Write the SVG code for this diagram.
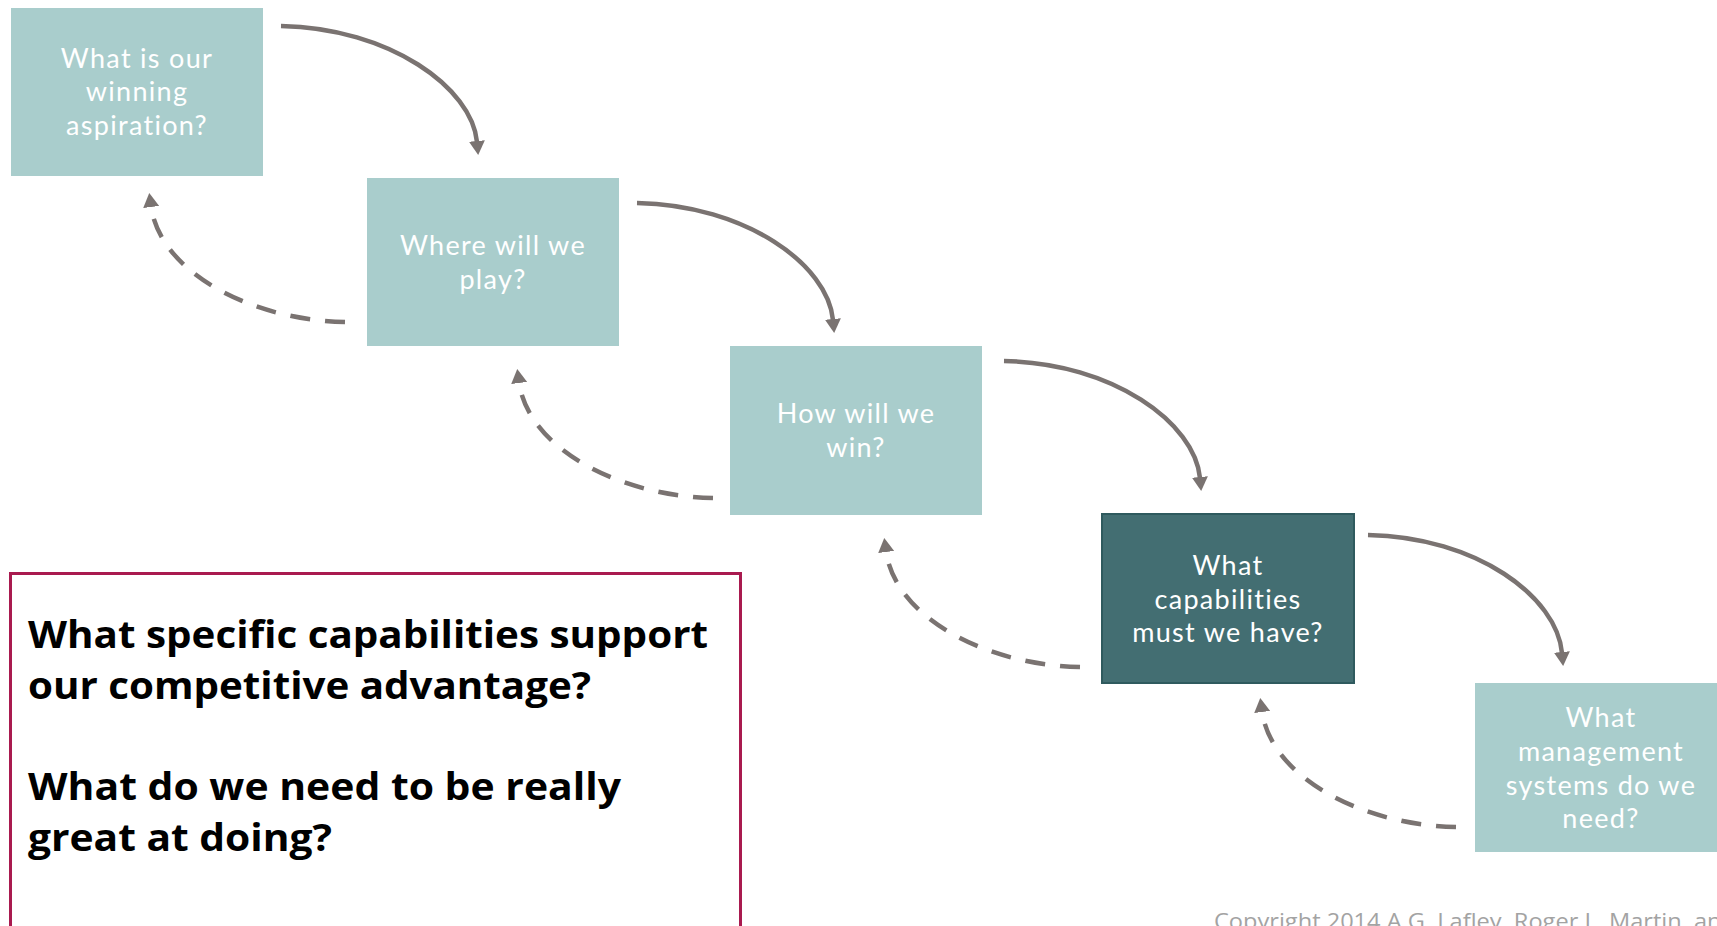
<svg xmlns="http://www.w3.org/2000/svg" width="1717" height="926" viewBox="0 0 1717 926">
  <style>
    .box { fill: #a9cdcc; }
    .dark { fill: #436e72; stroke: #2f5a5e; stroke-width: 2; }
    .lbl { font-family: Lato, "Open Sans", "Liberation Sans", sans-serif; font-weight: 400; font-size: 27px; letter-spacing: 1.3px; fill: #ffffff; text-anchor: middle; }
    .solid { fill: none; stroke: #7a7371; stroke-width: 4.5; marker-end: url(#ah); }
    .dash { fill: none; stroke: #7a7371; stroke-width: 4.5; stroke-dasharray: 20 15; marker-end: url(#ah); }
    .q { font-family: "Open Sans", "Liberation Sans", sans-serif; font-weight: 700; font-size: 37px; fill: #000000; }
    .copy { font-family: "Open Sans", "Liberation Sans", sans-serif; font-size: 21px; fill: #a3a3a3; }
  </style>
  <defs>
    <marker id="ah" viewBox="0 0 14 16" refX="1" refY="8" markerWidth="14" markerHeight="16" markerUnits="userSpaceOnUse" orient="auto">
      <path d="M0,0 L14,8 L0,16 z" fill="#7a7371"/>
    </marker>
  </defs>
  <rect width="1717" height="926" fill="#ffffff"/>

  <g id="connectors">
    <path class="solid" d="M281,26 C390,28 472,88 477,142"/>
    <path class="solid" d="M637,203 C746,205 828,265 833,320"/>
    <path class="solid" d="M1004,361 C1113,363 1195,423 1200,478"/>
    <path class="solid" d="M1368,535 C1477,537 1557,597 1562,653"/>
    <path class="dash" d="M345,322 C250,320 160,272 151,206"/>
    <path class="dash" d="M713,498 C618,496 528,448 519,382"/>
    <path class="dash" d="M1080,667 C985,665 895,617 886,551"/>
    <path class="dash" d="M1456,827 C1361,825 1271,777 1262,711"/>
  </g>

  <g id="node-aspiration">
    <rect class="box" x="11" y="8" width="252" height="168"/>
    <text class="lbl" x="137" y="68">What is our</text>
    <text class="lbl" x="137" y="101">winning</text>
    <text class="lbl" x="137" y="135">aspiration?</text>
  </g>
  <g id="node-play">
    <rect class="box" x="367" y="178" width="252" height="168"/>
    <text class="lbl" x="493" y="255">Where will we</text>
    <text class="lbl" x="493" y="289">play?</text>
  </g>
  <g id="node-win">
    <rect class="box" x="730" y="346" width="252" height="169"/>
    <text class="lbl" x="856" y="423">How will we</text>
    <text class="lbl" x="856" y="457">win?</text>
  </g>
  <g id="node-capabilities">
    <rect class="dark" x="1102" y="514" width="252" height="169"/>
    <text class="lbl" x="1228" y="575">What</text>
    <text class="lbl" x="1228" y="609">capabilities</text>
    <text class="lbl" x="1228" y="642">must we have?</text>
  </g>
  <g id="node-management">
    <rect class="box" x="1475" y="683" width="252" height="169"/>
    <text class="lbl" x="1601" y="727">What</text>
    <text class="lbl" x="1601" y="761">management</text>
    <text class="lbl" x="1601" y="795">systems do we</text>
    <text class="lbl" x="1601" y="828">need?</text>
  </g>

  <g id="question-box">
    <rect x="10.5" y="573.5" width="730" height="360" fill="#ffffff" stroke="#a91a4f" stroke-width="3"/>
    <text class="q" x="28" y="648" textLength="680" lengthAdjust="spacingAndGlyphs">What specific capabilities support</text>
    <text class="q" x="28" y="699" textLength="563" lengthAdjust="spacingAndGlyphs">our competitive advantage?</text>
    <text class="q" x="28" y="800" textLength="593" lengthAdjust="spacingAndGlyphs">What do we need to be really</text>
    <text class="q" x="28" y="851" textLength="304" lengthAdjust="spacingAndGlyphs">great at doing?</text>
  </g>

  <text class="copy" x="1214" y="929" textLength="522" lengthAdjust="spacingAndGlyphs">Copyright 2014 A.G. Lafley, Roger L. Martin, and</text>
</svg>
